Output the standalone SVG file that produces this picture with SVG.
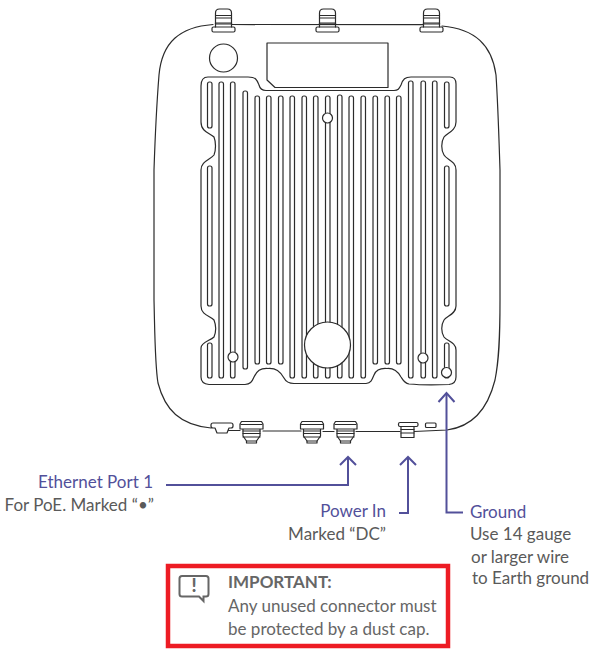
<svg xmlns="http://www.w3.org/2000/svg" width="599" height="650" viewBox="0 0 599 650">
<style>
.l{fill:none;stroke:#2b2b2b;stroke-width:1.2;stroke-linecap:round;stroke-linejoin:round}
.w{fill:#fff;stroke:#2b2b2b;stroke-width:1.2;stroke-linejoin:round}
.a{fill:none;stroke:#52509a;stroke-width:2;stroke-linejoin:miter}
text{font-family:"Lato","Noto Sans",sans-serif;font-size:17px}
.t{fill:#52509a}
.g{fill:#5a5a5a}
.c{fill:#666}
</style>
<defs>
<g id="top">
<path class="w" d="M-8 24V13Q-8 9 -4 9H4Q8 9 8 13V24Z"/>
<path class="l" d="M-8 15.500H8M-8 18H8M-8 23H8"/>
<rect class="w" x="-11.500" y="27" width="23" height="5" rx="1.500"/>
<path class="l" d="M-8 23V27M8 23V27"/>
</g>
<g id="bot">
<path class="w" d="M-8.500 427V436L-5 441H5L8.500 436V427Z"/>
<path class="l" d="M-8.500 431H8.500M-8.500 433.500H8.500M-8.500 437H8.500M-5 441V443H5V441"/>
<path class="w" d="M-10 421.500H10L11.500 424V429H-11.500V424Z"/>
<path class="l" d="M-10.500 424.500H10.500"/>
</g>
</defs>
<g id="body">
<path class="l" d="M213 24.500C180 27 162 42 159 75C157 100 155 140 154 170L154 300C155 340 155 365 158 383C165 410 180 425 211 428"/>
<path class="l" d="M232 24.500L423 24.700"/>
<path class="l" d="M442 26C475 29 492 45 496 75C498 105 499 140 500 170L500 300C500 340 499 360 495 380C487 412 470 427 447 430L414 431.500"/>
<path class="l" d="M227 430.500H240M263 431H301M323 431.500H334M356 431.500H400"/>
</g>
<g id="connectors-top">
<use href="#top" x="223.500"/>
<use href="#top" x="327.500"/>
<use href="#top" x="431.500"/>
</g>
<g id="connectors-bottom">
<path class="w" d="M213 423H231Q233 423 233 425V426Q233 428 231 428H229L227 433H217L215 428H213Q211 428 211 426V425Q211 423 213 423Z"/>
<use href="#bot" x="251.500"/>
<use href="#bot" x="312"/>
<use href="#bot" x="345.500"/>
<path class="w" d="M401 426V437.500H414V426Z"/>
<path class="l" d="M401 429.500H414M401 433H414"/>
<rect class="w" x="398.500" y="422.500" width="19.500" height="4" rx="1.500"/>
<rect class="w" x="425.500" y="423" width="10.500" height="4.500" rx="1"/>
</g>
<g id="label"><path class="l" d="M267 43H388V87.500H275L267 80Z"/></g>
<g id="knob"><circle class="l" cx="223.500" cy="58" r="14"/></g>
<g id="heatsink">
<path class="l" d="M208 77H248C256 77 257 80 259 85C260 89 262 90.500 266 90.500H394C398 90.500 399 89 401 85C403 79 405 77 411 77H450C454 77 456 80 456 84V122C456 131 447 133 444 137C441 142 441 150 444 155C447 160 456 161 456 170V306C456 314 447 316 444 320C441 325 441 332 444 337C447 341 456 342 456 350V377C456 382 453 384 449 384.500C435 385 420 385 409 384C404 383 403 380 401 377C397 370 393 368 387 368.500C381 368 376 370 374 375C372 380 371 383 366 383.500H294C289 383.500 286 382 284 378C280 371 276 368 268 368.500C260 368 257 371 254 377C252 382 250 384 245 384.500H209C204 384 201 382 201 377V348C201 342 210 341 214 337C216 332 216 325 214 320C210 316 201 315 201 306V170C201 161 210 160 214 155C216 150 216 142 214 137C210 133 201 132 201 122V86C201 80 204 77 208 77Z"/>
<g id="slots">
<rect class="l" x="207.500" y="82" width="4.500" height="46" rx="2"/>
<rect class="l" x="207.500" y="166" width="4.500" height="140" rx="2"/>
<rect class="l" x="207.500" y="343" width="4.500" height="35" rx="2"/>
<rect class="l" x="219" y="82" width="4.500" height="296" rx="2"/>
<rect class="l" x="230.500" y="82" width="4.500" height="296" rx="2"/>
<rect class="l" x="243" y="91" width="4.500" height="278" rx="2"/>
<rect class="l" x="255" y="96" width="4.500" height="268" rx="2"/>
<rect class="l" x="266.500" y="96" width="4.500" height="268" rx="2"/>
<rect class="l" x="278.500" y="96" width="4.500" height="268" rx="2"/>
<rect class="l" x="290" y="96" width="4.500" height="282" rx="2"/>
<rect class="l" x="302" y="96" width="4.500" height="282" rx="2"/>
<rect class="l" x="313.500" y="96" width="4.500" height="282" rx="2"/>
<rect class="l" x="325.500" y="96" width="4.500" height="282" rx="2"/>
<rect class="l" x="337.500" y="95" width="4.500" height="283" rx="2"/>
<rect class="l" x="349" y="96" width="4.500" height="282" rx="2"/>
<rect class="l" x="361" y="96" width="4.500" height="282" rx="2"/>
<rect class="l" x="373" y="96" width="4.500" height="268" rx="2"/>
<rect class="l" x="385" y="96" width="4.500" height="268" rx="2"/>
<rect class="l" x="396.500" y="96" width="4.500" height="268" rx="2"/>
<rect class="l" x="408.500" y="81" width="4.500" height="297" rx="2"/>
<rect class="l" x="421" y="81" width="4.500" height="297" rx="2"/>
<rect class="l" x="432.500" y="81" width="4.500" height="297" rx="2"/>
<rect class="l" x="444.500" y="82" width="4.500" height="46" rx="2"/>
<rect class="l" x="444.500" y="166" width="4.500" height="140" rx="2"/>
<rect class="l" x="444.500" y="343" width="4.500" height="35" rx="2"/>
</g>
<circle class="w" cx="327.500" cy="118" r="5"/>
<circle class="w" cx="233" cy="357" r="5"/>
<circle class="w" cx="423" cy="358" r="5"/>
<circle class="w" cx="446.500" cy="372.500" r="5"/>
<circle class="w" cx="327.500" cy="345" r="23"/>
</g>
<g id="arrows">
<path class="a" d="M166 485H348V458"/>
<path class="a" d="M340 465L348 457L356 465"/>
<path class="a" d="M399 513H408V458"/>
<path class="a" d="M400 465L408 457L416 465"/>
<path class="a" d="M463 512.500H446.500V394"/>
<path class="a" d="M438.500 402L446.500 393L454.500 402"/>
</g>
<g id="ethernet-label">
<text class="t" x="153" y="488" text-anchor="end">Ethernet Port 1</text>
<text class="g" x="154" y="511" text-anchor="end">For PoE. Marked “•”</text>
</g>
<g id="power-label">
<text class="t" x="386" y="517" text-anchor="end">Power In</text>
<text class="g" x="386" y="540" text-anchor="end">Marked “DC”</text>
</g>
<g id="ground-label">
<text class="t" x="470" y="518">Ground</text>
<text class="g" x="470" y="540">Use 14 gauge</text>
<text class="g" x="471" y="563">or larger wire</text>
<text class="g" x="472" y="584">to Earth ground</text>
</g>
<g id="important">
<rect x="168" y="566" width="280" height="80" fill="#fff" stroke="#ed1c24" stroke-width="4.500"/>
<path d="M182 576H206Q208.500 576 208.500 578.500V594Q208.500 596.500 206 596.500H203.500V601L199 596.500H182Q179.500 596.500 179.500 594V578.500Q179.500 576 182 576Z" fill="none" stroke="#666" stroke-width="2"/>
<text x="194" y="592" text-anchor="middle" style="font-weight:900;font-size:18px" class="c">!</text>
<text class="c" x="228" y="588" style="font-weight:700">IMPORTANT:</text>
<text class="c" x="228" y="612">Any unused connector must</text>
<text class="c" x="228" y="635">be protected by a dust cap.</text>
</g>
</svg>
